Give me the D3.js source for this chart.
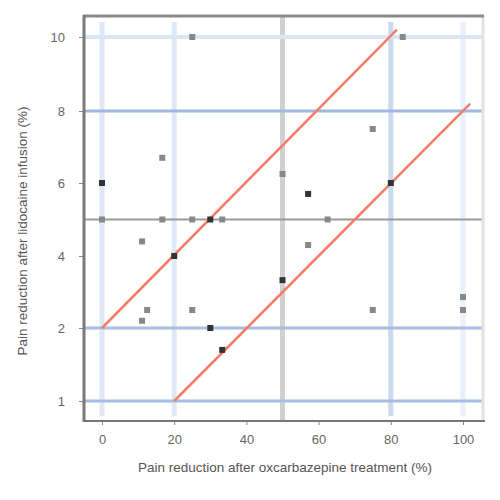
<!DOCTYPE html>
<html>
<head>
<meta charset="utf-8">
<script src="https://cdn.jsdelivr.net/npm/d3@7"></script>
<style>
  body { margin: 0; background: #fff; }
  svg { display: block; }
</style>
</head>
<body>
<div id="chart"></div>
<script>
// Données
const xTicks = [0, 20, 40, 60, 80, 100];
const yTicks = [1, 2, 4, 6, 8, 10];

// points : x = oxcarbazépine, y = lidocaïne, n = nombre de points superposés
const ptX = [0, 0, 16.7, 16.7, 25, 25, 30, 33.3, 11.1, 20, 12.5, 11.1, 25, 30, 33.3, 50, 57.1, 62.5, 50, 75, 100, 100, 75, 80, 83.3, 57.1];
const ptY = [6, 5, 6.7, 5, 10, 5, 5, 5, 4.4, 4, 2.5, 2.2, 2.5, 2, 1.7, 6.25, 5.7, 5, 3.33, 2.5, 2.86, 2.5, 7.5, 6, 10, 4.3];
const ptN = [2, 1, 1, 1, 1, 1, 2, 1, 1, 2, 1, 1, 1, 2, 2, 1, 2, 1, 2, 1, 1, 1, 1, 2, 1, 1];

// grilles verticales et horizontales
const vLines = [0, 20, 50, 80, 100];
const vColors = ["#dfe8f4", "#dfe8f4", "#d0d0d0", "#c9d9ee", "#e9f0f9"];
const hLines = [10, 8, 5, 2, 1];
const hColors = ["#dbe5f3", "#9fb8df", "#9a9a9a", "#a6bee2", "#a6bee2"];
const hWidths = [4, 3, 2, 3, 3];

// droites rouges (seuils)
const upperLine = [[0, 2], [81.7, 10.2]];
const lowerLine = [[20, 1], [102, 8.2]];

const W = 500, H = 500;
const frame = { left: 84, right: 483, top: 16, bottom: 421 };

const svg = d3.select("#chart").append("svg")
    .attr("width", W)
    .attr("height", H);

const x = d3.scaleLinear().domain([0, 100]).range([102, 463]);
// échelle par morceaux (graduations équidistantes)
const y = d3.scaleLinear().domain(yTicks).range([401, 328, 256, 183, 111, 37]);

// lignes verticales
svg.append("g").selectAll("line")
    .data(vLines)
    .enter().append("line")
    .attr("x1", d => x(d))
    .attr("x2", d => x(d))
    .attr("y1", d => d === 50 ? frame.top : 22)
    .attr("y2", d => d === 50 ? frame.bottom : 416)
    .attr("stroke", (d, i) => vColors[i])
    .attr("stroke-width", 5);

// lignes horizontales
svg.append("g").selectAll("line")
    .data(hLines)
    .enter().append("line")
    .attr("x1", frame.left)
    .attr("x2", frame.right)
    .attr("y1", d => y(d))
    .attr("y2", d => y(d))
    .attr("stroke", (d, i) => hColors[i])
    .attr("stroke-width", (d, i) => hWidths[i]);

// cadre
svg.append("line")
    .attr("x1", frame.right).attr("x2", frame.right)
    .attr("y1", frame.top).attr("y2", frame.bottom)
    .attr("stroke", "#e2e2e2").attr("stroke-width", 3);
svg.append("line")
    .attr("x1", frame.left - 1).attr("x2", frame.right + 1)
    .attr("y1", frame.top).attr("y2", frame.top)
    .attr("stroke", "#8a8a8a").attr("stroke-width", 3);

// droites rouges
const line = d3.line().x(d => x(d[0])).y(d => y(d[1]));
svg.append("g").selectAll("path")
    .data([upperLine, lowerLine])
    .enter().append("path")
    .attr("d", line)
    .attr("fill", "none")
    .attr("stroke", "#f47c68")
    .attr("stroke-width", 2.5);

// points
svg.append("g").selectAll("rect")
    .data(ptX.map((d, i) => ({ x: d, y: ptY[i], n: ptN[i] })))
    .enter().append("rect")
    .attr("x", d => x(d.x) - 3)
    .attr("y", d => y(d.y) - 3)
    .attr("width", 6)
    .attr("height", 6)
    .attr("fill", d => d.n > 1 ? "#333" : "#888");

// axes
const yAxis = svg.append("g")
    .attr("transform", `translate(${frame.left},0)`)
    .call(d3.axisLeft(y).tickValues(yTicks).tickSize(5).tickPadding(14).tickFormat(d3.format("d")));
yAxis.select(".domain").remove();
svg.append("line")
    .attr("x1", frame.left).attr("x2", frame.left)
    .attr("y1", frame.top - 1).attr("y2", frame.bottom + 1)
    .attr("stroke", "#7a7a7a").attr("stroke-width", 3);

const xAxis = svg.append("g")
    .attr("transform", `translate(0,${frame.bottom})`)
    .call(d3.axisBottom(x).tickValues(xTicks).tickSize(4).tickPadding(10));
xAxis.select(".domain").remove();
svg.append("line")
    .attr("x1", frame.left).attr("x2", frame.right + 2)
    .attr("y1", frame.bottom).attr("y2", frame.bottom)
    .attr("stroke", "#777").attr("stroke-width", 2);

svg.selectAll(".tick line").attr("stroke", "#888");
svg.selectAll(".tick text")
    .attr("fill", "#666")
    .style("font-family", "'Liberation Sans Narrow', 'Liberation Sans', sans-serif")
    .style("font-size", "13px");

// titres des axes
svg.append("text")
    .attr("x", 285)
    .attr("y", 472)
    .attr("text-anchor", "middle")
    .attr("fill", "#555")
    .style("font-family", "'Liberation Sans Narrow', 'Liberation Sans', sans-serif")
    .style("font-size", "13.5px")
    .text("Pain reduction after oxcarbazepine treatment (%)");

svg.append("text")
    .attr("transform", "translate(27,231) rotate(-90)")
    .attr("text-anchor", "middle")
    .attr("fill", "#555")
    .style("font-family", "'Liberation Sans Narrow', 'Liberation Sans', sans-serif")
    .style("font-size", "13.5px")
    .text("Pain reduction after lidocaine infusion (%)");
</script>
</body>
</html>
